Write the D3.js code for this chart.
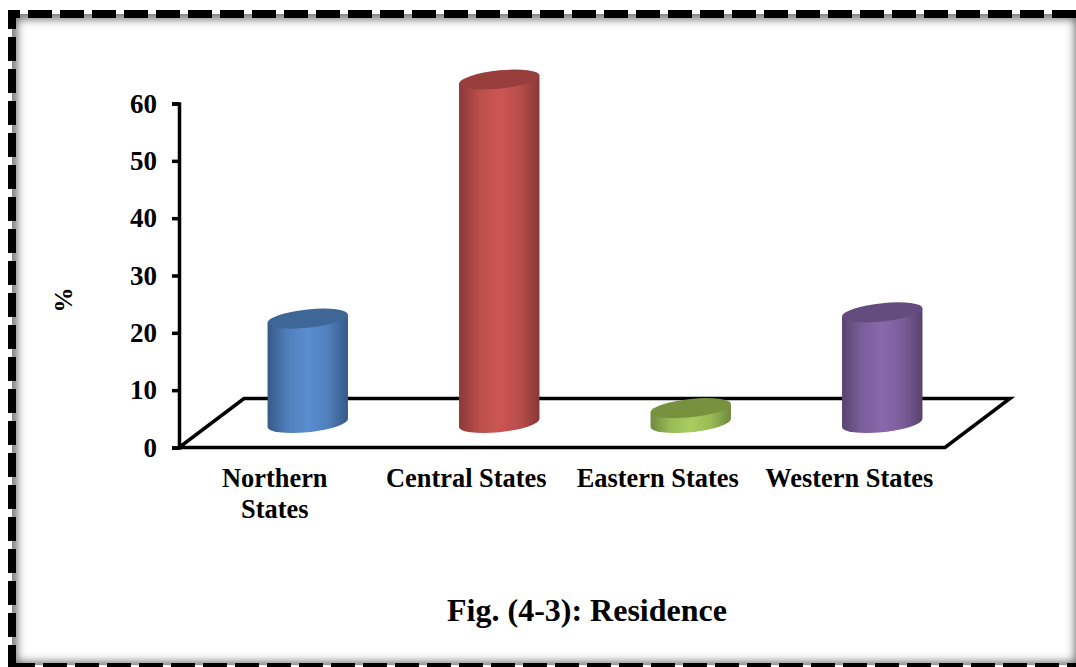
<!DOCTYPE html>
<html>
<head>
<meta charset="utf-8">
<script src="https://cdn.jsdelivr.net/npm/d3@7/dist/d3.min.js"></script>
<style>
  html, body { margin: 0; padding: 0; background: #fff; overflow: hidden; }
  svg { display: block; }
  text { font-family: "Liberation Serif", "Times New Roman", serif; font-weight: bold; fill: #000; }
</style>
</head>
<body>
<svg id="chart" width="1076" height="667"></svg>
<script>
// Share of respondents by region of residence
const categories = ["Northern States", "Central States", "Eastern States", "Western States"];
const values = [18.2, 59.9, 2.6, 19.3];
const yTicks = [0, 10, 20, 30, 40, 50, 60];
const bodyColors = [
  ["#375a87", "#5a8ed0", "#375a87"],
  ["#8a3937", "#cd5653", "#873836"],
  ["#708b3e", "#a8cd60", "#6f8a3d"],
  ["#59436f", "#8a68ac", "#57426c"]
];
const capColors = ["#3e6696", "#983f3d", "#77923f", "#644d7e"];
const yTitle = "%";
const figureCaption = "Fig. (4-3): Residence";

const svg = d3.select("#chart");
const W = 1076, H = 667;

const y = d3.scaleLinear().domain([0, 60]).range([447.5, 103.5]);
const x = d3.scaleBand().domain(categories).range([179, 945]);

// Receding floor: offset of its back edge from the front edge
const depthX = 65, depthY = 49;
const barW = x.bandwidth() * 0.42;
const capRy = 9.2, shear = -0.1;

const defs = svg.append("defs");
defs.append("filter").attr("id", "soft")
  .attr("x", "-5%").attr("y", "-5%").attr("width", "110%").attr("height", "110%")
  .append("feGaussianBlur").attr("stdDeviation", 5);
defs.append("clipPath").attr("id", "inner")
  .append("rect").attr("x", 12).attr("y", 14).attr("width", W).attr("height", 651);

bodyColors.forEach((c, i) => {
  const g = defs.append("linearGradient").attr("id", "body" + i)
    .attr("x1", 0).attr("x2", 1).attr("y1", 0).attr("y2", 0);
  g.append("stop").attr("offset", "0%").attr("stop-color", c[0]);
  g.append("stop").attr("offset", "25%").attr("stop-color", d3.interpolateRgb(c[0], c[1])(0.72));
  g.append("stop").attr("offset", "50%").attr("stop-color", c[1]);
  g.append("stop").attr("offset", "75%").attr("stop-color", d3.interpolateRgb(c[2], c[1])(0.72));
  g.append("stop").attr("offset", "100%").attr("stop-color", c[2]);
});

// Page frame: soft inner shadow beneath a heavy dashed border
svg.append("g").attr("clip-path", "url(#inner)")
  .append("rect")
  .attr("x", 12).attr("y", 14).attr("width", 1068).attr("height", 653)
  .attr("fill", "none").attr("stroke", "#555").attr("stroke-width", 9)
  .attr("filter", "url(#soft)");

const frame = svg.append("g").attr("fill", "none").attr("stroke", "#000").attr("stroke-width", 8);
frame.append("path").attr("d", "M8,14H1076").attr("stroke-dasharray", "24 8").attr("stroke-dashoffset", 12);
frame.append("path").attr("d", "M12,10V667").attr("stroke-dasharray", "24 8").attr("stroke-dashoffset", 5);
frame.append("path").attr("d", "M11,667H1076").attr("stroke-dasharray", "24 8");

// Floor of the plot
const floor = d3.path();
floor.moveTo(x.range()[0], y(0));
floor.lineTo(x.range()[1], y(0));
floor.lineTo(x.range()[1] + depthX, y(0) - depthY);
floor.lineTo(x.range()[0] + depthX, y(0) - depthY);
floor.closePath();
svg.append("path").attr("d", floor.toString())
  .attr("fill", "none").attr("stroke", "#000").attr("stroke-width", 3.5).attr("stroke-linejoin", "miter");

// Value axis
const yAxis = svg.append("g")
  .attr("transform", `translate(${x.range()[0]},0)`)
  .call(d3.axisLeft(y).tickValues(yTicks).tickSize(7).tickPadding(15));
yAxis.selectAll("path, line").attr("stroke", "#000").attr("stroke-width", 3.5);
yAxis.selectAll("text").style("font-size", "27px").style("font-family", null);
yAxis.attr("font-family", null).attr("font-size", null);

// Category axis along the front edge of the floor
const xAxis = svg.append("g")
  .attr("transform", `translate(0,${y(0)})`)
  .call(d3.axisBottom(x).tickSize(0).tickPadding(0));
xAxis.select(".domain").remove();
xAxis.attr("font-family", null).attr("font-size", null);
xAxis.selectAll("text").each(function (d) {
  const t = d3.select(this).text("").attr("y", 0).attr("dy", null).style("font-size", "26.4px");
  const lines = d.length > 14 ? d.split(" ") : [d];
  lines.forEach((line, i) => {
    t.append("tspan").attr("x", 0).attr("y", 39 + i * 31).text(line);
  });
});

// Cylinders stand halfway back on the floor
const baseY = y(0) - depthY / 2;
const bars = svg.append("g").selectAll("g").data(categories).join("g")
  .attr("transform", d => `translate(${x(d) + x.bandwidth() / 2 + depthX / 2 + 0.5},0)`);

const rx = barW / 2;
bars.append("path")
  .attr("fill", (d, i) => `url(#body${i})`)
  .attr("d", (d, i) => {
    const h = y(0) - y(values[i]);
    return `M${-rx},${-h} L${-rx},0 A${rx},${capRy} 0 0 0 ${rx},0 L${rx},${-h} Z`;
  })
  .attr("transform", `matrix(1,${shear},0,1,0,${baseY})`);

bars.append("ellipse")
  .attr("rx", rx).attr("ry", capRy)
  .attr("fill", (d, i) => capColors[i])
  .attr("transform", (d, i) => `matrix(1,${shear},0,1,0,${baseY - (y(0) - y(values[i]))})`);

// Axis title and figure caption
svg.append("text")
  .attr("transform", "translate(72,300) rotate(-90)")
  .attr("text-anchor", "middle")
  .style("font-size", "25px")
  .text(yTitle);

svg.append("text")
  .attr("x", 587).attr("y", 621)
  .attr("text-anchor", "middle")
  .style("font-size", "32px")
  .text(figureCaption);
</script>
</body>
</html>
